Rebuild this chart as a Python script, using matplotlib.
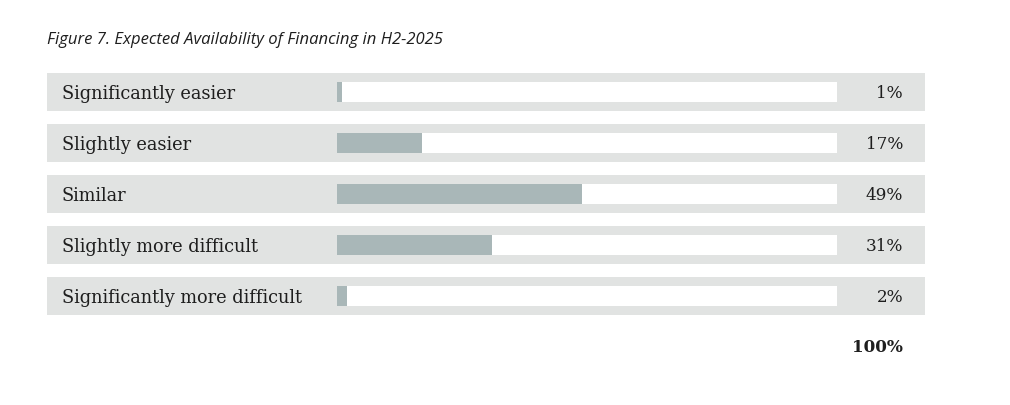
import matplotlib.pyplot as plt

# data
categories = ["Significantly easier", "Slightly easier", "Similar",
              "Slightly more difficult", "Significantly more difficult"]
shares = [1, 17, 49, 31, 2]
total_label = "100%"
title = "Figure 7. Expected Availability of Financing in H2-2025"

W, H = 1010, 406
fig = plt.figure(figsize=(W / 100, H / 100), dpi=100)
fig.patch.set_facecolor("white")

# axes covers the white track (x in percent), one row per unit in y
track_l, track_r = 337, 837
top, row_h = 74, 51
n = len(categories)
ax = fig.add_axes([track_l / W, (H - (top + n * row_h)) / H,
                   (track_r - track_l) / W, n * row_h / H])
ax.set_xlim(0, 100)
ax.set_ylim(n - 0.5, -0.5)
ax.axis("off")

px = 100 / (track_r - track_l)  # percent per pixel
band_l = (47 - track_l) * px
band_r = (925 - track_l) * px
ys = list(range(n))
yoff = -0.5 + 19 / row_h  # band centre relative to row

band_c = "#e1e3e2"
bar_c = "#a9b7b8"
txt_c = "#1e1e1e"
serif = ["DejaVu Serif"]

for y, cat, v in zip(ys, categories, shares):
    yc = y + yoff
    ax.barh(yc, band_r - band_l, left=band_l, height=38 / row_h,
            color=band_c, clip_on=False, zorder=1)
    ax.barh(yc, 100, left=0, height=20 / row_h, color="white",
            clip_on=False, zorder=2)
    ax.barh(yc, v, left=0, height=20 / row_h, color=bar_c,
            clip_on=False, zorder=3)
    ax.text((62 - track_l) * px, yc + 0.01, cat, ha="left", va="center",
            fontsize=12.8, family=serif, color=txt_c, zorder=4)
    ax.text((903 - track_l) * px, yc + 0.01, f"{v}%", ha="right", va="center",
            fontsize=12.2, family=serif, color=txt_c, zorder=4)

ax.text((903 - track_l) * px, n - 0.5 + 19 / row_h, total_label,
        ha="right", va="center", fontsize=12.2, family=serif,
        fontweight="bold", color=txt_c, clip_on=False)

fig.text(47 / W, 1 - 40 / H, title, ha="left", va="center",
         fontsize=12, style="italic", family=["Open Sans"], color=txt_c)

fig.savefig("out.png", dpi=100)
